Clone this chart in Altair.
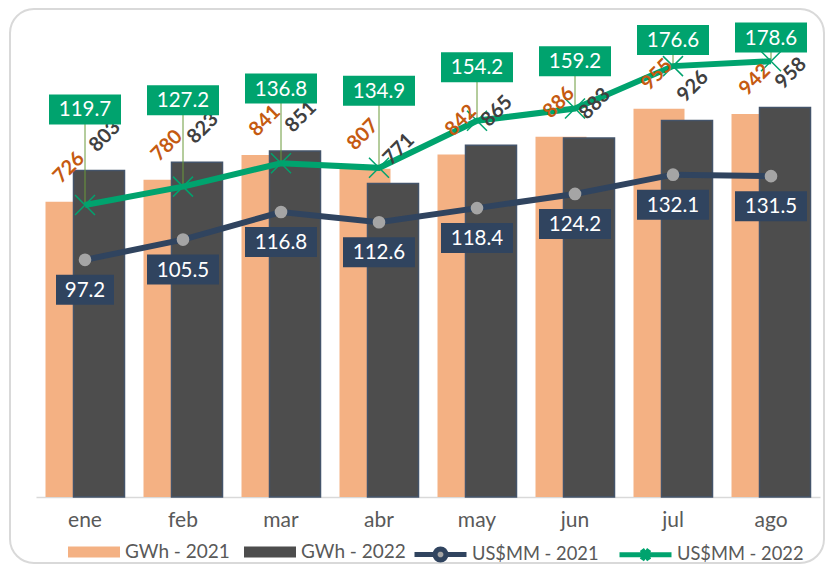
import math
import altair as alt
import pandas as pd

# ---------------- data ----------------
months = ["ene", "feb", "mar", "abr", "may", "jun", "jul", "ago"]
gwh_2021 = [726, 780, 841, 807, 842, 886, 955, 942]
gwh_2022 = [803, 823, 851, 771, 865, 883, 926, 958]
usd_2021 = [97.2, 105.5, 116.8, 112.6, 118.4, 124.2, 132.1, 131.5]
usd_2022 = [119.7, 127.2, 136.8, 134.9, 154.2, 159.2, 176.6, 178.6]
series_bars = ["GWh - 2021", "GWh - 2022"]
series_lines = ["US$MM - 2021", "US$MM - 2022"]

# ---------------- style ----------------
PEACH = "#F4B183"
DARK = "#4D4D4D"
DARK_EDGE = "#44546A"
NAVY = "#30445F"
GREEN = "#00A36E"
CIRCLE = "#A5A5A5"
LEADER = "#6A9A3A"
ORANGE_TXT = "#C55A11"
GRAY_TXT = "#404040"
AXIS_TXT = "#595959"
FONT = "Lato"

df = pd.DataFrame({
    "month": months,
    "gwh21": gwh_2021,
    "gwh22": gwh_2022,
    "usd21": usd_2021,
    "usd22": usd_2022,
})
df["lab21"] = [f"{v:.1f}" for v in usd_2021]
df["lab22"] = [f"{v:.1f}" for v in usd_2022]


def poly_circle(r, n=16):
    pts = [(r * math.cos(2 * math.pi * k / n), r * math.sin(2 * math.pi * k / n)) for k in range(n)]
    return "M" + "L".join(f"{x:.3f},{y:.3f}" for x, y in pts) + "Z"


PATH_X_MARK = "M-1,-1L1,1M-1,1L1,-1"
PATH_LEG_CIRC = "M-1,0L-0.22,0M0.22,0L1,0" + poly_circle(0.21)
PATH_LEG_X = "M-1,0L1,0M-0.14,-0.2L0.14,0.2M-0.14,0.2L0.14,-0.2"
PATH_RECT = "M-1,-0.21L1,-0.21L1,0.21L-1,0.21Z"

W, H = 784, 488

x_enc = alt.X(
    "month:N", sort=months, title=None,
    scale=alt.Scale(paddingInner=0, paddingOuter=0),
    axis=alt.Axis(labelAngle=0, ticks=False, domainColor="#D9D9D9", domainWidth=1.5,
                  labelFont=FONT, labelFontSize=21, labelColor=AXIS_TXT,
                  labelPadding=12, grid=False),
)
gs = alt.Scale(domain=[0, 1200], nice=False, zero=True)
us = alt.Scale(domain=[0, 200], nice=False, zero=True)

base = alt.Chart(df).encode(x=x_enc)

bar_legend = alt.Legend(
    title=None, orient="none", legendX=32, legendY=517, direction="horizontal",
    symbolType=PATH_RECT, symbolSize=2704, symbolStrokeWidth=0,
    labelFont=FONT, labelFontSize=19, labelColor=AXIS_TXT, labelOffset=5,
    columnPadding=14, padding=0,
)
color_enc = alt.Color("serie:N", scale=alt.Scale(domain=series_bars, range=[PEACH, DARK]),
                      legend=bar_legend)

bars21 = base.transform_calculate(serie="'GWh - 2021'").mark_bar(
    width=51, xOffset=-14
).encode(y=alt.Y("gwh21:Q", scale=gs, axis=None), color=color_enc)

bars22 = base.transform_calculate(serie="'GWh - 2022'").mark_bar(
    width=51, xOffset=14, stroke=DARK_EDGE, strokeWidth=1.5
).encode(y=alt.Y("gwh22:Q", scale=gs, axis=None), color=color_enc)

# leader lines for green labels
rules = base.transform_calculate(ly="0.5*datum.usd22 + 99").mark_rule(
    color=LEADER, strokeWidth=1
).encode(y=alt.Y("ly:Q", scale=us, axis=None), y2="usd22:Q")

line21 = base.mark_line(color=NAVY, strokeWidth=6).encode(
    y=alt.Y("usd21:Q", scale=us, axis=None))
line22 = base.mark_line(color=GREEN, strokeWidth=6).encode(
    y=alt.Y("usd22:Q", scale=us, axis=None))

circles = base.mark_circle(size=160, color=CIRCLE, opacity=1).encode(
    y=alt.Y("usd21:Q", scale=us, axis=None))
xmarks = base.mark_point(shape=PATH_X_MARK, size=400, stroke=GREEN, strokeWidth=1.5,
                         filled=False, opacity=1).encode(
    y=alt.Y("usd22:Q", scale=us, axis=None))

lab21 = base.mark_text(angle=315, xOffset=-16, yOffset=-34, fontSize=20, fontWeight="bold",
                       color=ORANGE_TXT, font=FONT, align="center", baseline="middle").encode(
    y=alt.Y("gwh21:Q", scale=gs, axis=None), text="gwh21:Q")
lab22 = base.mark_text(angle=315, xOffset=20, yOffset=-34, fontSize=20, fontWeight="bold",
                       color=GRAY_TXT, font=FONT, align="center", baseline="middle").encode(
    y=alt.Y("gwh22:Q", scale=gs, axis=None), text="gwh22:Q")

box21 = base.mark_rect(width={"expr": "14*length(datum.lab21)+2"}, height=30, color=NAVY,
                       yOffset=30).encode(y=alt.Y("usd21:Q", scale=us, axis=None))
txt21 = base.mark_text(color="white", fontSize=20.5, font=FONT, align="center",
                       baseline="middle", yOffset=31).encode(
    y=alt.Y("usd21:Q", scale=us, axis=None), text="lab21:N")

box22 = base.transform_calculate(ly="0.5*datum.usd22 + 99").mark_rect(
    width={"expr": "14*length(datum.lab22)+2"}, height=30, color=GREEN
).encode(y=alt.Y("ly:Q", scale=us, axis=None))
txt22 = base.transform_calculate(ly="0.5*datum.usd22 + 99").mark_text(
    color="white", fontSize=20.5, font=FONT, align="center", baseline="middle", yOffset=1
).encode(y=alt.Y("ly:Q", scale=us, axis=None), text="lab22:N")

line_legend = alt.Legend(
    title=None, orient="none", legendX=376, legendY=517, direction="horizontal",
    symbolSize=2704, symbolStrokeWidth=5, symbolOpacity=1,
    labelFont=FONT, labelFontSize=18.3, labelColor=AXIS_TXT, labelOffset=3,
    columnPadding=10, padding=0,
)
dummy = alt.Chart(pd.DataFrame({"serie": series_lines})).mark_point(opacity=0).encode(
    shape=alt.Shape("serie:N", scale=alt.Scale(domain=series_lines, range=[PATH_LEG_CIRC, PATH_LEG_X]),
                    legend=line_legend),
    stroke=alt.Stroke("serie:N", scale=alt.Scale(domain=series_lines, range=[NAVY, GREEN]),
                      legend=line_legend),
    fill=alt.Fill("serie:N", scale=alt.Scale(domain=series_lines, range=[CIRCLE, "transparent"]),
                  legend=line_legend),
)

frame = alt.Chart(pd.DataFrame({"k": [0]})).mark_rect(
    fillOpacity=0, stroke="#D9D9D9", strokeWidth=2, cornerRadius=24
).encode(x=alt.value(-26), x2=alt.value(788), y=alt.value(0), y2=alt.value(554))

chart = alt.layer(
    frame, bars21, bars22, rules, line21, line22, circles, xmarks,
    lab21, lab22, box21, txt21, box22, txt22, dummy
).resolve_scale(y="independent").properties(
    width=W, height=H,
    autosize=alt.AutoSizeParams(type="none"),
    padding={"left": 28, "top": 1, "right": 6, "bottom": 68},
).configure(font=FONT).configure_view(stroke=None)

chart.save("out.html", embed_options={"renderer": "svg", "actions": False})
